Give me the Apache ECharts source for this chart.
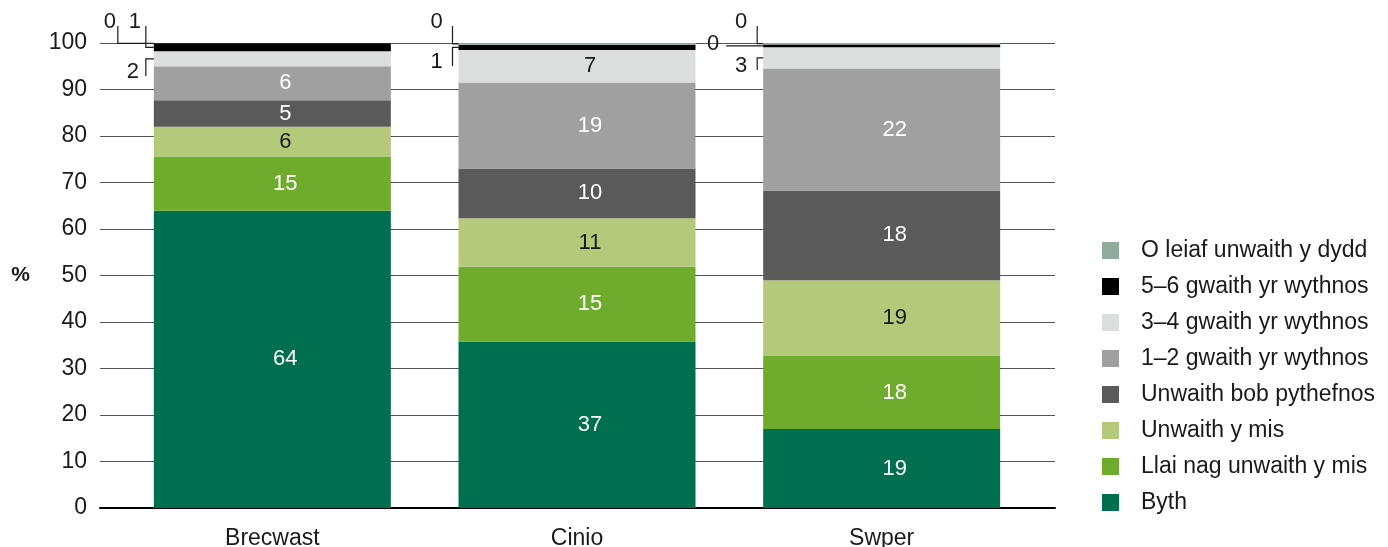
<!DOCTYPE html>
<html><head><meta charset="utf-8">
<script src="https://cdn.jsdelivr.net/npm/echarts@6/dist/echarts.min.js"></script>
<style>html,body{margin:0;padding:0;background:#fff}#c{width:1388px;height:547px}</style>
</head><body><div id="c"></div>
<script>
// ---- data ----
const categories = ['Brecwast', 'Cinio', 'Swper'];
const seriesNames = ['Byth', 'Llai nag unwaith y mis', 'Unwaith y mis', 'Unwaith bob pythefnos',
  '1–2 gwaith yr wythnos', '3–4 gwaith yr wythnos', '5–6 gwaith yr wythnos', 'O leiaf unwaith y dydd'];
// segment heights as drawn (%)
const byth = [63.9, 35.8, 17.0];
const llai = [11.7, 16.1, 15.7];
const unwaithMis = [6.4, 10.4, 16.3];
const pythefnos = [5.7, 10.7, 19.3];
const wythnos12 = [7.3, 18.5, 26.2];
const wythnos34 = [3.2, 7.0, 4.6];
const wythnos56 = [1.7, 1.1, 0.6];
const dydd = [0.0, 0.4, 0.3];
// printed value labels
const bythLabels = [64, 37, 19];
const llaiLabels = [15, 15, 18];
const unwaithMisLabels = [6, 11, 19];
const pythefnosLabels = [5, 10, 18];
const wythnos12Labels = [6, 19, 22];
const wythnos34Labels = [2, 7, 3];
const wythnos56Labels = [1, 1, 0];
const dyddLabels = [0, 0, 0];

const values = [byth, llai, unwaithMis, pythefnos, wythnos12, wythnos34, wythnos56, dydd];
const labels = [bythLabels, llaiLabels, unwaithMisLabels, pythefnosLabels, wythnos12Labels, wythnos34Labels, wythnos56Labels, dyddLabels];

// ---- style ----
const colors = ['#006f4f', '#6fac2e', '#b5c97b', '#5a5a5b', '#a0a0a0', '#dcdddd', '#000000', '#8fac9a'];
const labelColors = ['#fff', '#fff', '#1a1a1a', '#fff', '#fff', '#1a1a1a', '#fff', '#1a1a1a'];
const FONT = "'Liberation Sans', Arial, sans-serif";
const FS = 23;
const FS_IN = 22;
const BAR_W = 237;

// outside labels with leader lines (layout relative to bar left edge / top of axis)
const annotationLayout = [
  {s: 7, c: 0, lx: -44, ly: -21, vx: -36},
  {s: 6, c: 0, lx: -19, ly: -21, vx: -8},
  {s: 5, c: 0, lx: -21, ly: 29, vx: -8},
  {s: 7, c: 1, lx: -22, ly: -21, vx: -6},
  {s: 6, c: 1, lx: -22, ly: 19, vx: -6},
  {s: 7, c: 2, lx: -22, ly: -21, vx: -6},
  {s: 6, c: 2, lx: -50, ly: 1, h: -37},
  {s: 5, c: 2, lx: -22, ly: 23, vx: -6}
];
const outside = new Set(annotationLayout.map(a => a.s + '_' + a.c));

const chart = echarts.init(document.getElementById('c'), null, {renderer: 'canvas'});

const series = seriesNames.map((name, si) => ({
  name, type: 'bar', stack: 'all', xAxisIndex: 1, yAxisIndex: 1,
  barWidth: BAR_W,
  itemStyle: {color: colors[si]},
  label: {
    show: true, position: 'inside', offset: [13, 0],
    color: labelColors[si], fontFamily: FONT, fontSize: FS_IN,
    formatter: p => String(labels[si][p.dataIndex])
  },
  data: values[si].map((v, ci) => ({value: v, label: {show: !outside.has(si + '_' + ci)}})),
  emphasis: {disabled: true}, animation: false
}));

chart.setOption({
  animation: false,
  textStyle: {fontFamily: FONT},
  grid: [
    {left: 100, right: 333, top: 43, bottom: 39, containLabel: false, outerBoundsMode: 'none'},
    {left: 120, right: 354, top: 43, bottom: 39, containLabel: false, outerBoundsMode: 'none'}
  ],
  xAxis: [
    {gridIndex: 0, type: 'category', data: [''], axisTick: {show: false}, axisLabel: {show: false},
     axisLine: {lineStyle: {color: '#000', width: 2}}},
    {gridIndex: 1, type: 'category', data: categories, axisTick: {show: false}, axisLine: {show: false},
     axisLabel: {color: '#1a1a1a', fontSize: FS, fontFamily: FONT, margin: 19}}
  ],
  yAxis: [
    {gridIndex: 0, type: 'value', min: 0, max: 100, interval: 10,
     axisLine: {show: false}, axisTick: {show: false},
     axisLabel: {color: '#1a1a1a', fontSize: FS, fontFamily: FONT, margin: 13},
     splitLine: {lineStyle: {color: '#555', width: 1}},
     name: '%', nameLocation: 'middle', nameRotate: 0, nameGap: 70,
     nameTextStyle: {fontWeight: 'bold', fontSize: 21, color: '#1a1a1a', fontFamily: FONT}},
    {gridIndex: 1, type: 'value', min: 0, max: 100, show: false, splitLine: {show: false}}
  ],
  legend: {
    orient: 'vertical', left: 1097, top: 234, height: 300, itemWidth: 17, itemHeight: 17, itemGap: 13,
    icon: 'rect', selectedMode: false,
    textStyle: {fontSize: FS, color: '#1a1a1a', fontFamily: FONT, padding: [0, 0, 0, 17]},
    data: seriesNames.slice().reverse()
  },
  series
});

// leader lines + outside labels, positioned via the chart's own scales
const graphics = [];
const yTop = chart.convertToPixel({gridIndex: 1}, [0, 100])[1];
annotationLayout.forEach(a => {
  let base = 0;
  for (let k = 0; k < a.s; k++) base += values[k][a.c];
  const mid = base + values[a.s][a.c] / 2;
  const pt = chart.convertToPixel({gridIndex: 1}, [a.c, mid]);
  const barLeft = pt[0] - BAR_W / 2;
  const segY = pt[1];
  const tx = barLeft + a.lx, ty = yTop + a.ly;
  graphics.push({
    type: 'text', x: tx, y: ty, z: 10,
    style: {text: String(labels[a.s][a.c]), font: FS_IN + 'px ' + FONT, fill: '#1a1a1a',
      align: 'center', verticalAlign: 'middle', textAlign: 'center', textVerticalAlign: 'middle'}
  });
  let pts;
  if (a.h !== undefined) {
    pts = [[barLeft + a.h, segY], [barLeft, segY]];
  } else {
    pts = [[barLeft + a.vx, ty + 4], [barLeft + a.vx, segY], [barLeft, segY]];
  }
  graphics.push({type: 'polyline', z: 10, shape: {points: pts},
    style: {stroke: '#1a1a1a', lineWidth: 1.2, fill: null}});
});
chart.setOption({graphic: graphics});
</script>
</body></html>
